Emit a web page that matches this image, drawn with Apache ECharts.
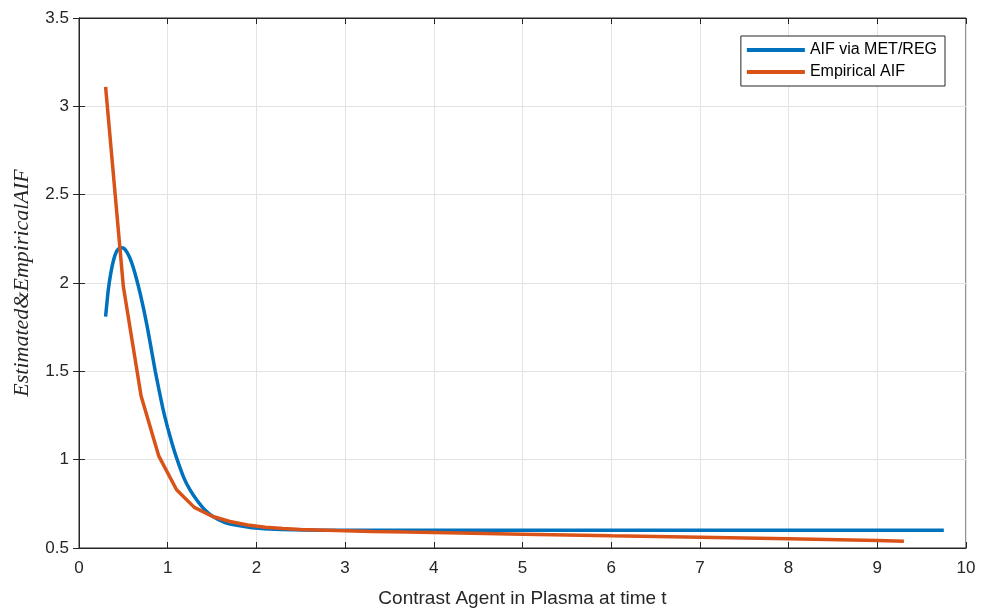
<!DOCTYPE html>
<html>
<head>
<meta charset="utf-8">
<title>AIF</title>
<script src="https://cdn.jsdelivr.net/npm/echarts@6/dist/echarts.min.js"></script>
<style>
	html, body { margin: 0; padding: 0; background: #fff; }
	#main { width: 989px; height: 610px; }
</style>
</head>
<body>
<div id="main"></div>
<script>
// AIF via MET/REG (blue)
var metX = [0.3, 0.33, 0.36, 0.39, 0.42, 0.45, 0.48, 0.51, 0.54, 0.575, 0.61, 0.65, 0.69, 0.73, 0.77, 0.81, 0.86, 0.9, 0.95, 1.0, 1.05, 1.1, 1.18, 1.25, 1.33, 1.42, 1.51, 1.64, 1.78, 1.95, 2.15, 2.4, 2.7, 3.0, 4, 5, 6, 7, 8, 9, 9.75];
var metY = [1.81, 1.96, 2.06, 2.13, 2.175, 2.195, 2.2, 2.195, 2.175, 2.14, 2.09, 2.02, 1.94, 1.85, 1.75, 1.64, 1.5, 1.4, 1.28, 1.18, 1.09, 1.01, 0.9, 0.83, 0.77, 0.715, 0.678, 0.645, 0.628, 0.615, 0.608, 0.603, 0.601, 0.6, 0.6, 0.6, 0.6, 0.6, 0.6, 0.6, 0.6];

// Empirical AIF (orange)
var empX = [0.3, 0.5, 0.7, 0.9, 1.1, 1.3, 1.5, 1.7, 1.9, 2.1, 2.3, 2.5, 2.9, 3.3, 3.7, 4.3, 5, 6, 7, 8, 9, 9.3];
var empY = [3.11, 1.98, 1.36, 1.02, 0.83, 0.73, 0.68, 0.65, 0.63, 0.617, 0.61, 0.605, 0.599, 0.594, 0.59, 0.585, 0.578, 0.569, 0.561, 0.552, 0.542, 0.538];

var seriesNames = ['AIF via MET/REG', 'Empirical AIF'];

function pairs(xs, ys) {
	var out = [];
	for (var i = 0; i < xs.length; i++) {
		out.push([xs[i], ys[i]]);
	}
	return out;
}

var myChart = echarts.init(document.getElementById('main'));

var axisColor = '#262626';
var tickFont = {
	color: axisColor,
	fontSize: 17,
	fontFamily: 'Liberation Sans, Arial, sans-serif'
};

var option = {
	backgroundColor: '#fff',
	animation: false,
	grid: {
		left: 79,
		right: 23,
		top: 18,
		bottom: 62,
		outerBoundsMode: 'none',
		containLabel: false,
		show: true,
		borderColor: axisColor,
		borderWidth: 1
	},
	legend: {
		data: seriesNames,
		orient: 'vertical',
		right: 44,
		top: 36,
		backgroundColor: '#fff',
		borderColor: axisColor,
		borderWidth: 1,
		borderRadius: 0,
		padding: [6, 8, 6, 6],
		itemGap: 6,
		itemWidth: 58,
		itemHeight: 4,
		icon: 'rect',
		textStyle: {
			color: '#000',
			fontSize: 16,
			fontFamily: 'Liberation Sans, Arial, sans-serif'
		}
	},
	xAxis: [{
		type: 'value',
		min: 0,
		max: 10,
		interval: 1,
		name: 'Contrast Agent in Plasma at time t',
		nameLocation: 'middle',
		nameGap: 41,
		nameTextStyle: {
			color: axisColor,
			fontSize: 19,
			fontFamily: 'Liberation Sans, Arial, sans-serif'
		},
		axisLine: { show: true, lineStyle: { color: axisColor, width: 1 } },
		axisTick: { show: true, inside: true, length: 6, lineStyle: { color: axisColor } },
		axisLabel: Object.assign({ margin: 12 }, tickFont),
		splitLine: { show: true, lineStyle: { color: '#e3e3e3', width: 1 } }
	}, {
		type: 'value',
		position: 'top',
		min: 0,
		max: 10,
		interval: 1,
		axisLine: { show: true, lineStyle: { color: axisColor } },
		axisTick: { show: true, inside: true, length: 6, lineStyle: { color: axisColor } },
		axisLabel: { show: false },
		splitLine: { show: false }
	}],
	yAxis: [{
		type: 'value',
		min: 0.5,
		max: 3.5,
		interval: 0.5,
		name: 'Estimated&EmpiricalAIF',
		nameLocation: 'middle',
		nameGap: 46,
		nameTextStyle: {
			color: axisColor,
			fontSize: 22,
			fontStyle: 'italic',
			fontFamily: 'Liberation Serif, Times New Roman, serif'
		},
		axisLine: { show: true, lineStyle: { color: axisColor, width: 1 } },
		axisTick: { show: true, inside: true, length: 6, lineStyle: { color: axisColor } },
		axisLabel: Object.assign({ margin: 10 }, tickFont),
		splitLine: { show: true, lineStyle: { color: '#e3e3e3', width: 1 } }
	}, {
		type: 'value',
		position: 'right',
		min: 0.5,
		max: 3.5,
		interval: 0.5,
		axisLine: { show: true, lineStyle: { color: axisColor } },
		axisTick: { show: true, inside: true, length: 6, lineStyle: { color: axisColor } },
		axisLabel: { show: false },
		splitLine: { show: false }
	}],
	series: [{
		name: seriesNames[0],
		type: 'line',
		data: pairs(metX, metY),
		smooth: 0.2,
		showSymbol: false,
		color: '#0072BD',
		lineStyle: { width: 3.5, color: '#0072BD' }
	}, {
		name: seriesNames[1],
		type: 'line',
		data: pairs(empX, empY),
		showSymbol: false,
		color: '#D95319',
		lineStyle: { width: 3.5, color: '#D95319' }
	}]
};

myChart.setOption(option);
</script>
</body>
</html>
